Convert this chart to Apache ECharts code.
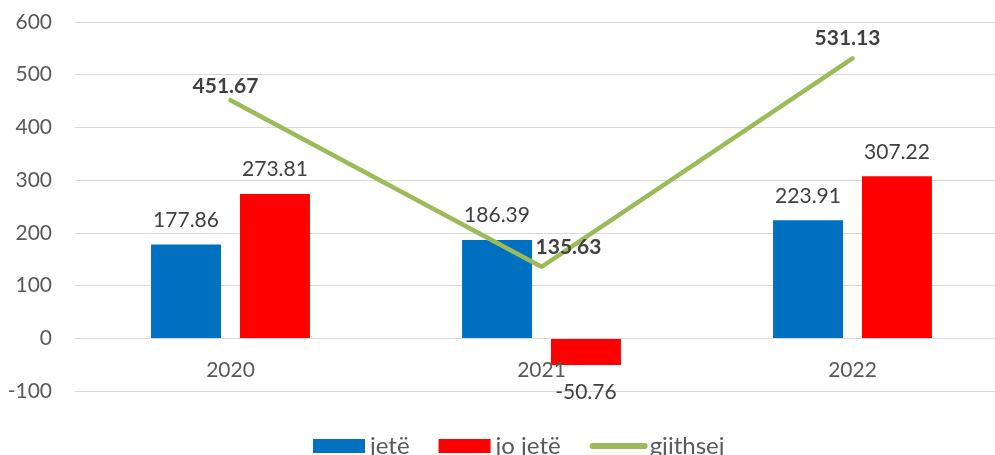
<!DOCTYPE html>
<html>
<head>
<meta charset="utf-8">
<script src="https://cdn.jsdelivr.net/npm/echarts@6/dist/echarts.min.js"></script>
<style>
html,body{margin:0;padding:0;background:#fff;}
#c{width:995px;height:455px;}
</style>
</head>
<body>
<div id="c"></div>
<script>
var categories = ['2020', '2021', '2022'];
var jete = [177.86, 186.39, 223.91];
var joJete = [273.81, -50.76, 307.22];
var gjithsej = [451.67, 135.63, 531.13];
var lineLabelOffsets = [[-5, 0], [27, -6], [-5, -7]];
var yTicks = { min: -100, max: 600, interval: 100 };

var chart = echarts.init(document.getElementById('c'));
var font = 'Lato, "Open Sans", sans-serif';
var fmt = function (p) { return (typeof p.value === 'object' ? p.value.value : p.value).toFixed(2); };
chart.setOption({
  animation: false,
  backgroundColor: '#ffffff',
  textStyle: { fontFamily: font },
  grid: { left: 75, width: 933, top: 22, bottom: 64, containLabel: false, outerBoundsMode: 'none' },
  legend: {
    top: 434,
    left: 313,
    padding: 0,
    itemWidth: 52,
    itemHeight: 14,
    itemGap: 29,
    textStyle: { fontSize: 24, color: '#595959', fontFamily: font },
    lineStyle: { width: 6, cap: 'round' },
    data: [
      { name: 'jetë', icon: 'rect' },
      { name: 'jo jetë', icon: 'rect' },
      { name: 'gjithsej', lineStyle: { width: 6, cap: 'round', color: '#9BBB59' } }
    ]
  },
  xAxis: {
    type: 'category',
    data: categories,
    z: 5,
    position: 'bottom',
    offset: -53,
    axisLine: { onZero: false, lineStyle: { color: '#D9D9D9', width: 1 } },
    axisTick: { show: false },
    axisLabel: { fontSize: 21, color: '#595959', margin: 22, fontFamily: font }
  },
  yAxis: {
    type: 'value',
    min: yTicks.min,
    max: yTicks.max,
    interval: yTicks.interval,
    axisLine: { show: false },
    axisTick: { show: false },
    splitLine: { lineStyle: { color: '#D9D9D9', width: 1 } },
    axisLabel: { fontSize: 21, color: '#595959', margin: 23, fontFamily: font }
  },
  series: [
    {
      name: 'jetë',
      type: 'bar',
      data: jete,
      barWidth: 70,
      barGap: '27%',
      itemStyle: { color: '#0070C0' },
      label: { show: true, position: 'top', distance: 14, fontSize: 21, color: '#404040', fontFamily: font, formatter: fmt }
    },
    {
      name: 'jo jetë',
      type: 'bar',
      data: joJete,
      barWidth: 70,
      barGap: '27%',
      itemStyle: { color: '#FF0000' },
      label: { show: true, position: 'top', distance: 14, fontSize: 21, color: '#404040', fontFamily: font, formatter: fmt },
      labelLayout: function (params) {
        if (params.dataIndex === 1) {
          return {
            x: params.rect.x + params.rect.width / 2,
            y: params.rect.y + params.rect.height + 17,
            align: 'center',
            verticalAlign: 'top'
          };
        }
        return {};
      }
    },
    {
      name: 'gjithsej',
      type: 'line',
      data: gjithsej.map(function (v, i) {
        return { value: v, label: { offset: lineLabelOffsets[i] } };
      }),
      symbol: 'circle',
      symbolSize: 2,
      showSymbol: true,
      z: 4,
      lineStyle: { color: '#9BBB59', width: 4.5, cap: 'round' },
      itemStyle: { color: 'rgba(0,0,0,0)', borderWidth: 0 },
      label: { show: true, position: 'top', distance: 2, fontSize: 21, fontWeight: 'bold', color: '#404040', fontFamily: font, formatter: fmt }
    }
  ]
});
</script>
</body>
</html>
